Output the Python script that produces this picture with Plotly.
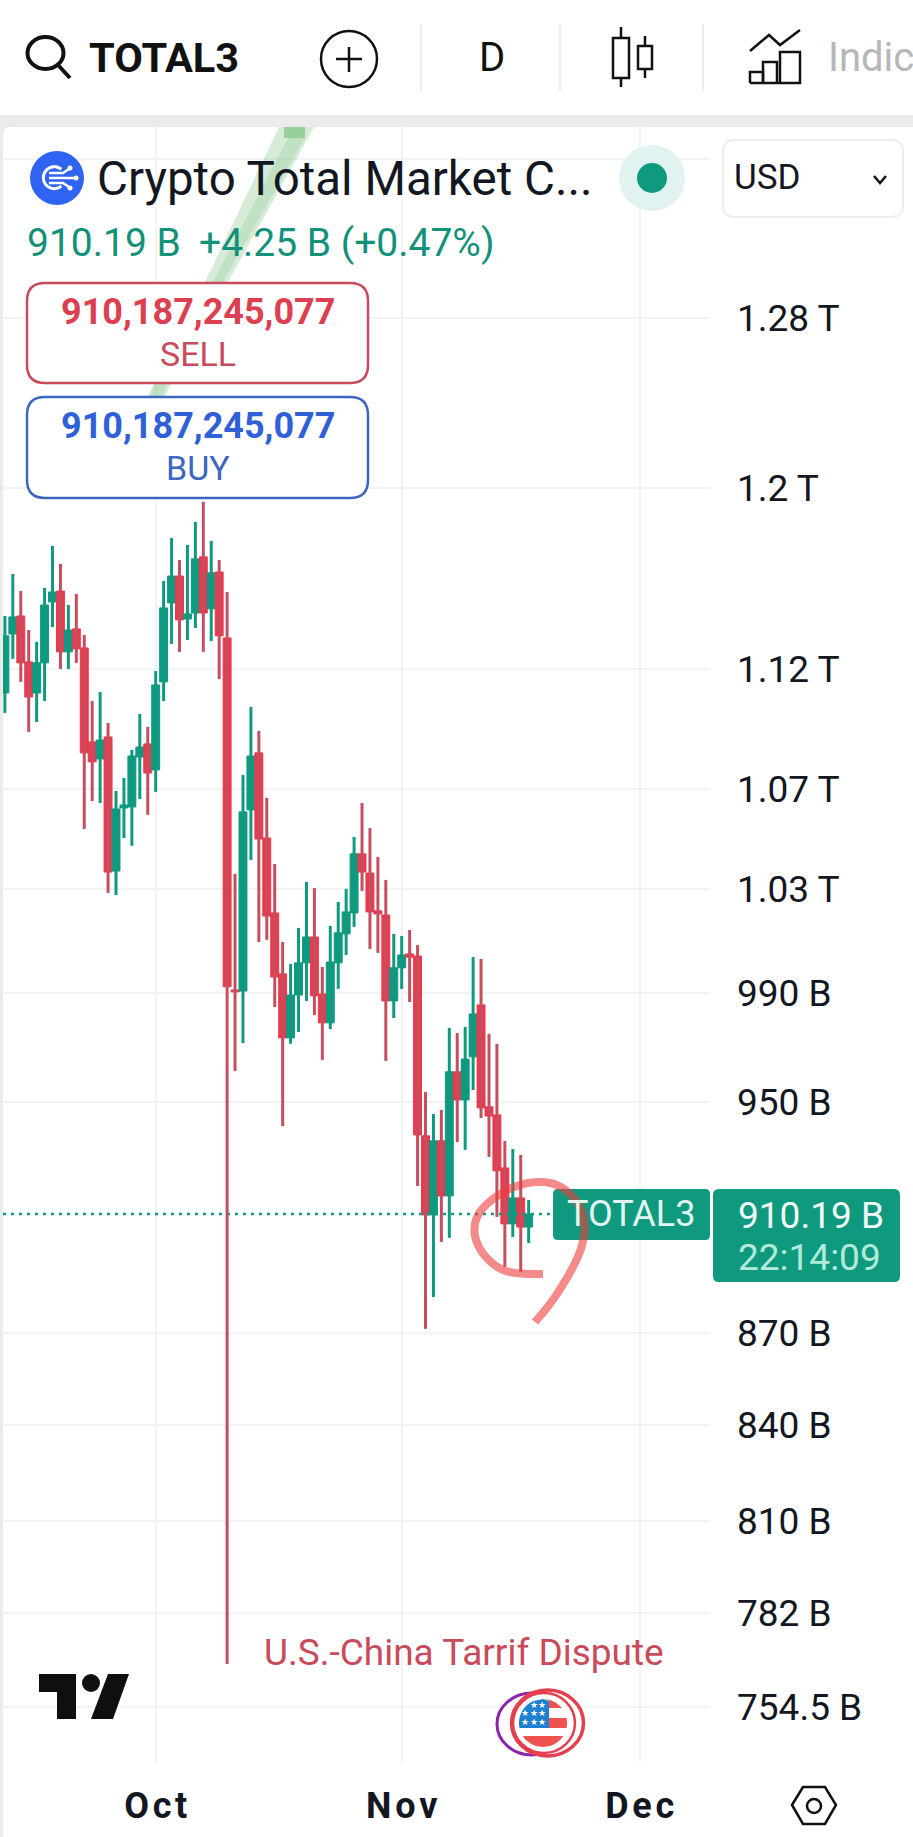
import math
import numpy as np
import pandas as pd
import plotly.graph_objects as go

# ---- data (USD billions, daily candles) ----
first_day = "2025-09-12"
opens = [1109.8,1135.0,1142.8,1123.0,1109.8,1122.6,1148.9,1153.7,1127.3,1137.2,1129.0,1089.3,1082.3,1091.4,1037.1,1062.3,1062.7,1083.1,1088.5,1077.8,1114.5,1148.5,1160.3,1141.5,1144.1,1168.8,1145.9,1162.1,1133.3,991.2,990.8,1061.5,1084.8,1050.2,1020.7,997.3,973.3,989.3,1001.5,1011.4,989.7,978.9,1001.5,1012.6,1020.7,1043.9,1036.3,1021.5,1019.9,987.1,999.6,1004.9,1004.1,937.7,909.9,935.9,916.5,960.8,950.6,966.3,985.6,948.1,945.2,926.3,906.8,915.8,905.7]
highs = [1142.8,1161.2,1153.7,1136.7,1131.6,1155.1,1173.7,1165.7,1147.6,1152.4,1134.6,1106.4,1110.2,1097.2,1069.2,1074.5,1086.0,1101.0,1095.6,1119.1,1158.1,1177.2,1167.4,1174.1,1184.4,1193.5,1175.9,1167.4,1153.3,1036.0,1075.7,1103.9,1093.9,1066.4,1039.9,1009.5,1001.1,1014.9,1032.8,1030.4,999.9,1015.7,1025.0,1030.1,1050.6,1064.3,1054.2,1042.7,1033.6,1012.6,1011.8,1014.1,1008.3,953.5,945.5,947.0,977.0,975.1,977.4,1003.7,1003.0,974.8,971.1,935.9,933.0,930.9,915.1]
lows = [1101.4,1124.3,1114.5,1093.5,1097.6,1106.4,1138.0,1120.0,1120.0,1122.6,1053.8,1065.1,1064.3,1028.5,1027.7,1050.2,1047.1,1065.9,1059.5,1068.8,1106.4,1130.7,1127.3,1132.4,1137.6,1127.3,1132.0,1115.7,767.0,961.1,971.4,1041.5,1009.5,1010.3,984.8,941.2,971.1,975.5,987.1,981.8,965.2,976.6,991.6,1004.5,1015.3,1029.3,1006.8,1005.3,964.8,980.7,991.6,986.7,920.0,871.3,881.9,900.6,902.0,935.5,932.7,954.2,944.1,930.2,909.2,892.1,902.3,890.4,900.2]
closes = [1134.2,1142.4,1122.6,1108.1,1122.6,1147.6,1153.3,1127.3,1136.7,1128.6,1084.8,1081.1,1090.1,1036.7,1061.9,1063.5,1083.5,1087.2,1076.5,1113.2,1146.3,1160.3,1141.1,1143.7,1167.9,1144.1,1161.7,1134.2,992.4,990.5,1060.7,1083.5,1049.8,1019.5,996.1,973.3,989.3,1001.5,1011.4,989.0,978.9,1001.8,1013.0,1021.1,1043.9,1036.7,1021.1,1020.3,987.1,999.6,1004.5,1003.7,938.0,909.9,935.9,916.5,960.8,950.6,965.5,982.2,947.7,944.8,925.3,906.8,915.8,905.7,910.2]
last_price = 910.19

price_ticks = [1360, 1280, 1200, 1120, 1070, 1030, 990, 950, 870, 840, 810, 782, 754.5]
price_labels = ["", "1.28 T", "1.2 T", "1.12 T", "1.07 T", "1.03 T", "990 B", "950 B", "870 B", "840 B", "810 B", "782 B", "754.5 B"]
month_ticks = ["2025-10-01", "2025-11-01", "2025-12-01"]
month_labels = ["O\u200ac\u200at", "N\u200ao\u200av", "D\u200ae\u200ac"]

W, H = 913, 1837
dates = pd.date_range(first_day, periods=len(opens), freq="D")
x_range = ["2025-09-11 18:14", "2025-12-09 20:24"]

GREEN = "#0f9a80"
RED_BODY = "#ea3a4e"
RED_WICK = "#c54f5e"
INK = "#131722"

def X(p): return p / W
def Y(p): return 1 - p / H

shapes = []
ann = []

def path(pts, closed=True, fill=None, color=None, width=0):
    d = "M" + "L".join(f"{X(a):.5f},{Y(b):.5f}" for a, b in pts) + ("Z" if closed else "")
    shapes.append(dict(type="path", xref="paper", yref="paper", path=d, fillcolor=fill,
                       line=dict(color=color or "rgba(0,0,0,0)", width=width), layer="above"))

def rect(x0, y0, x1, y1, fill):
    shapes.append(dict(type="rect", xref="paper", yref="paper", x0=X(x0), x1=X(x1), y0=Y(y0), y1=Y(y1),
                       fillcolor=fill, line=dict(width=0), layer="above"))

def ellipse(cx, cy, rx, ry, fill=None, color=None, width=0):
    shapes.append(dict(type="circle", xref="paper", yref="paper", x0=X(cx-rx), x1=X(cx+rx), y0=Y(cy-ry), y1=Y(cy+ry),
                       fillcolor=fill or "rgba(0,0,0,0)", line=dict(color=color or "rgba(0,0,0,0)", width=width), layer="above"))

def round_rect(x0, y0, x1, y1, r, fill, color=None, width=0):
    d = (f"M{X(x0+r):.5f},{Y(y0):.5f}L{X(x1-r):.5f},{Y(y0):.5f}Q{X(x1):.5f},{Y(y0):.5f} {X(x1):.5f},{Y(y0+r):.5f}"
         f"L{X(x1):.5f},{Y(y1-r):.5f}Q{X(x1):.5f},{Y(y1):.5f} {X(x1-r):.5f},{Y(y1):.5f}"
         f"L{X(x0+r):.5f},{Y(y1):.5f}Q{X(x0):.5f},{Y(y1):.5f} {X(x0):.5f},{Y(y1-r):.5f}"
         f"L{X(x0):.5f},{Y(y0+r):.5f}Q{X(x0):.5f},{Y(y0):.5f} {X(x0+r):.5f},{Y(y0):.5f}Z")
    shapes.append(dict(type="path", xref="paper", yref="paper", path=d, fillcolor=fill,
                       line=dict(color=color or "rgba(0,0,0,0)", width=width), layer="above"))

def text(s, x, y, size, color=INK, anchor="left", weight=None, family="Roboto"):
    f = dict(family=family, size=size, color=color)
    if weight:
        f["weight"] = weight
    ann.append(dict(text=s, x=X(x), y=Y(y), xref="paper", yref="paper", xanchor=anchor, yanchor="middle",
                    showarrow=False, font=f, borderpad=0))

def disc_part(cx, cy, r, y0, y1, xmin=-1e9, xmax=1e9):
    ys = np.linspace(y0, y1, 16)
    half = [math.sqrt(max(r*r-(v-cy)**2, 0)) for v in ys]
    right = [(min(cx+h, xmax), v) for h, v in zip(half, ys)]
    left = [(max(cx-h, xmin), v) for h, v in zip(half, ys)]
    return right + left[::-1]

def smooth(pts, rounds=3):
    for _ in range(rounds):
        out = [pts[0]]
        for (a, b), (c, d) in zip(pts[:-1], pts[1:]):
            out += [(.75*a+.25*c, .75*b+.25*d), (.25*a+.75*c, .25*b+.75*d)]
        out.append(pts[-1])
        pts = out
    return pts

# page chrome
rect(0, 115, W, 127, "#ebebeb")
rect(0, 127, 3, H, "#ebebeb")
path([(3,127),(9,127),(5,129),(3,133)], fill="#ebebeb")

# diagonal drawing behind the header
path([(279,127),(314,127),(228,282),(172,383),(140,440),(126,440),(148,396),(205,282)], fill="rgba(120,190,125,0.30)")
path([(288,138),(305,138),(223,282),(168,383),(150,420),(140,420),(155,383),(213,282)], fill="rgba(120,190,125,0.22)")
rect(284, 127, 305, 138, "rgba(100,185,105,0.55)")

# toolbar icons
ellipse(45.5, 53, 18, 16, color="#111111", width=4)
path([(58,65),(70,78)], closed=False, color="#111111", width=4)
ellipse(349, 59, 28, 28, color="#111111", width=2.5)
path([(336,59),(362,59)], closed=False, color="#111111", width=2.5)
path([(349,47),(349,72)], closed=False, color="#111111", width=2.5)
for sx in (421, 560, 703):
    rect(sx-1, 24, sx+1, 91, "#eeeeee")
path([(613,38),(629,38),(629,78),(613,78)], color="#111111", width=2.5)
path([(621,27),(621,38)], closed=False, color="#111111", width=2.5)
path([(621,78),(621,87)], closed=False, color="#111111", width=2.5)
path([(638,46),(652,46),(652,69),(638,69)], color="#111111", width=2.5)
path([(645,36),(645,46)], closed=False, color="#111111", width=2.5)
path([(645,69),(645,78)], closed=False, color="#111111", width=2.5)
path([(750,51),(769,35),(780,45),(800,30)], closed=False, color="#111111", width=2.5)
path([(750,83),(750,72),(763,72),(763,83)], closed=False, color="#111111", width=2.5)
path([(763,83),(763,62),(777,62),(777,83)], closed=False, color="#111111", width=2.5)
path([(780,83),(780,52),(800,52),(800,83),(750,83)], closed=False, color="#111111", width=2.5)

# symbol logo
ellipse(57, 178, 27, 27, fill="#2f64f2")
arc = [(54.3+11*math.cos(a), 177.7+11*math.sin(a)) for a in np.radians(np.linspace(50, 310, 18))]
path(arc, closed=False, color="#ffffff", width=3)
path([(49,178),(75,178)], closed=False, color="#ffffff", width=2.5)
path([(49,173),(63,173),(69,169)], closed=False, color="#ffffff", width=2.5)
path([(49,183),(63,183),(69,187)], closed=False, color="#ffffff", width=2.5)
for a, b in ((70,168),(76,178),(70,188)):
    ellipse(a, b, 2.5, 2.5, fill="#ffffff")

# status dot and currency box
ellipse(652, 178, 33, 33, fill="#e0f3f0")
ellipse(652, 178, 15, 15, fill="#0f9a80")
round_rect(723, 140, 903, 217, 12, "#ffffff", "#eeeeee", 2)
path([(874,176),(880,183),(886,176)], closed=False, color="#111111", width=2.5)

# sell / buy boxes
round_rect(27, 283, 368, 383, 18, "#ffffff", "#c94a5a", 2.5)
round_rect(27, 397, 368, 498, 18, "#ffffff", "#3d66c0", 2.5)

# price tags
round_rect(553, 1189, 710, 1240, 5, GREEN)
round_rect(713, 1189, 900, 1282, 6, GREEN)

# hand-drawn scribble
path(smooth([(543,1274),(520,1274),(500,1270),(483,1255),(474,1237),(475,1220),(483,1207),(498,1195),(517,1185),
      (540,1181),(560,1185),(577,1200),(585,1220),(584,1240),(577,1260),(563,1285),(548,1307),(535,1322)]),
     closed=False, color="rgba(236,60,60,0.6)", width=8)

# TradingView logo
path([(39,1674),(76,1674),(76,1719),(57,1719),(57,1692),(39,1692)], fill="#0f0f0f")
ellipse(91, 1683, 9, 9, fill="#0f0f0f")
path([(108,1674),(129,1674),(113,1719),(91,1719)], fill="#0f0f0f")

# flag badge
ellipse(532, 1724, 35, 31, fill="#ffffff", color="#8e24aa", width=3)
ellipse(547.5, 1723, 36, 33, fill="#ffffff", color="#e53e4f", width=3.5)
ellipse(544, 1723, 31, 30, color="#e53e4f", width=2.5)
for y0, y1, xmin in ((1699,1708,549),(1718,1728,549),(1736,1747,-1e9)):
    path(disc_part(543, 1723, 24, y0, y1, xmin=xmin), fill="#ef5350")
path(disc_part(543, 1723, 24, 1699, 1728, xmax=549), fill="#1f7fd0")
for a, b in ((534,1705),(542,1705),(525,1713),(534,1713),(542,1713),(525,1722),(534,1722),(542,1722)):
    text("★", a, b, 9, "#ffffff", "center", family="DejaVu Sans")

# settings hexagon
path([(792,1805),(803,1787),(825,1787),(836,1805),(825,1824),(803,1824)], color="#111111", width=2.5)
ellipse(814, 1806, 7, 7, color="#111111", width=2.5)

# texts
text("TOTAL3", 88, 57, 41.5, "#111111", weight=700)
text("D", 478, 58, 40, "#111111")
text("Indic", 827, 58, 40, "#b5b7bb")
text("Crypto Total Market C...", 96, 179, 47.5)
text("USD", 733, 178, 35)
text("910.19 B", 26, 243, 39, "#12917a")
text("+4.25 B (+0.47%)", 198, 243, 39, "#12917a")
text("910,187,245,077", 198, 312, 36, "#dc3f50", "center", weight=700)
text("SELL", 198, 354, 34, "#c94a5a", "center")
text("910,187,245,077", 198, 426, 36, "#2f60d8", "center", weight=700)
text("BUY", 198, 468, 34, "#3d66c0", "center")
text("TOTAL3", 631, 1214, 36, "#e2f5ef", "center")
text("910.19 B", 737, 1215, 37, "#f0faf7")
text("22:14:09", 737, 1257, 37, "#b2ebd9")
text("U.S.-China Tarrif Dispute", 263, 1652, 37, "#c94a5a")

def wicks(mask):
    xs, ys = [], []
    for d, hi, lo, up in zip(dates, highs, lows, mask):
        if up:
            xs += [d, d, None]
            ys += [lo, hi, None]
    return xs, ys

rising = [c >= o for o, c in zip(opens, closes)]
falling = [not r for r in rising]

fig = go.Figure()
fig.add_trace(go.Scatter(x=x_range, y=[last_price, last_price], mode="lines", hoverinfo="skip",
                         line=dict(color=GREEN, width=2.5, dash="3px,5px")))
for mask, col in ((rising, GREEN), (falling, RED_WICK)):
    xs, ys = wicks(mask)
    fig.add_trace(go.Scatter(x=xs, y=ys, mode="lines", hoverinfo="skip", line=dict(color=col, width=3)))
fig.add_trace(go.Candlestick(x=dates, open=opens, close=closes, whiskerwidth=0, hoverinfo="skip",
                             high=[max(a, b) for a, b in zip(opens, closes)],
                             low=[min(a, b) for a, b in zip(opens, closes)],
                             increasing=dict(line=dict(color=GREEN, width=1), fillcolor=GREEN),
                             decreasing=dict(line=dict(color=RED_BODY, width=1), fillcolor=RED_BODY)))

fig.update_layout(
    width=W, height=H, margin=dict(l=0, r=0, t=0, b=0), showlegend=False,
    paper_bgcolor="#ffffff", plot_bgcolor="#ffffff", shapes=shapes, annotations=ann,
    font=dict(family="Roboto", color=INK), boxgap=0.0, boxgroupgap=0.0,
    xaxis=dict(domain=[X(3), X(710)], range=x_range, type="date", rangeslider=dict(visible=False),
               tickmode="array", tickvals=month_ticks, ticktext=month_labels, ticklen=0,
               ticklabelstandoff=19, tickfont=dict(family="Roboto", size=36, color=INK, weight=700),
               showgrid=True, gridcolor="#f2f3f3", gridwidth=2, zeroline=False, showline=False),
    yaxis=dict(domain=[Y(1762), Y(127)], type="log", side="right",
               range=[math.log10(738.9), math.log10(1376.5)],
               tickmode="array", tickvals=price_ticks, ticktext=price_labels, ticklen=0,
               ticklabelstandoff=26, tickfont=dict(family="Roboto", size=37, color=INK),
               showgrid=True, gridcolor="#f2f3f3", gridwidth=2, zeroline=False, showline=False),
)

fig.write_html("out.html", config=dict(displayModeBar=False, responsive=False),
               post_script="document.body.style.margin='0';document.documentElement.style.overflow='hidden';")
